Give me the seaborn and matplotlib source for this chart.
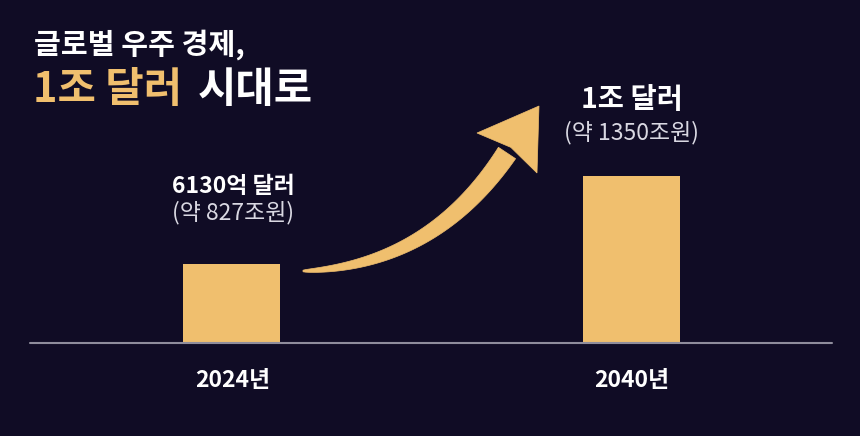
import numpy as np
import pandas as pd
import matplotlib
matplotlib.use("Agg")
import matplotlib.pyplot as plt
import seaborn as sns
from matplotlib.patches import Polygon

# ---- data ----
years = ["2024년", "2040년"]
values = [6130, 10000]  # 억 달러
value_labels = ["6130억 달러", "1조 달러"]
krw_labels = ["(약 827조원)", "(약 1350조원)"]
title_line1 = "글로벌 우주 경제,"
title_hl = "1조 달러"
title_rest = "시대로"

BG = "#100c25"
GOLD = "#f0bf6e"
WHITE = "#ffffff"
LIGHT = "#d9d8e2"
GRID = "#8f8d9c"

sns.set_theme(style="white")
plt.rcParams["font.family"] = ["Noto Sans CJK KR", "DejaVu Sans"]

W, H = 860, 436
fig = plt.figure(figsize=(W / 100, H / 100), dpi=100, facecolor=BG)

base_px, top_px = 343, 176
ax = fig.add_axes([0, (H - base_px) / H, 1, (base_px - top_px) / H])
ax.set_facecolor(BG)

df = pd.DataFrame({"year": years, "value": values})
sns.barplot(data=df, x="year", y="value", color=GOLD, saturation=1,
            width=0.2425, ax=ax, edgecolor="none")
ymin = 2656
ax.set_ylim(ymin, max(values))
ax.set_xlim(-231.5 / 400, (W - 231.5) / 400)
for s in ax.spines.values():
    s.set_visible(False)
ax.set_xticks([]); ax.set_yticks([])
ax.set_xlabel(""); ax.set_ylabel("")

# baseline
ax.axhline(ymin, xmin=30 / W, xmax=832 / W, color=GRID, lw=1.5, clip_on=False, zorder=5)

def fx(x):
    return x / W

def fy(y):
    return 1 - y / H

# value labels (figure pixel positions)
lab_pos = [(233, 186, 213), (632, 100, 133)]
lab_sizes = [16.5, 20.5]
for i, (cx, y1, y2) in enumerate(lab_pos):
    fig.text(fx(cx), fy(y1), value_labels[i], color=WHITE, fontsize=lab_sizes[i],
             fontweight="heavy", ha="center", va="center")
    fig.text(fx(cx), fy(y2), krw_labels[i], color=LIGHT, fontsize=16.5,
             fontweight="light", ha="center", va="center")

# x labels
for i, cx in enumerate([233, 632]):
    fig.text(fx(cx), fy(380), years[i], color=WHITE, fontsize=16.5,
             fontweight="heavy", ha="center", va="center")

# title
fig.text(fx(34), fy(45), title_line1, color=WHITE, fontsize=21,
         fontweight="heavy", ha="left", va="center")
t = fig.text(fx(33), fy(90), title_hl, color=GOLD, fontsize=30,
             fontweight="heavy", ha="left", va="center")
fig.canvas.draw()
ax.annotate(title_rest, xy=(1, 0.5), xycoords=t, xytext=(16, 0),
            textcoords="offset pixels", color=WHITE, fontsize=30,
            fontweight="heavy", ha="left", va="center", annotation_clip=False)

# curved arrow (decoration), built in pixel space
P0 = np.array([303.0, 271.0])
C = np.array([432.0, 266.0])
P2 = np.array([507.0, 153.0])
ts = np.linspace(0, 1, 100)
pts = ((1 - ts)[:, None] ** 2) * P0 + (2 * (1 - ts) * ts)[:, None] * C + (ts ** 2)[:, None] * P2
der = 2 * (1 - ts)[:, None] * (C - P0) + 2 * ts[:, None] * (P2 - C)
tang = der / np.linalg.norm(der, axis=1)[:, None]
norm = np.stack([-tang[:, 1], tang[:, 0]], axis=1)
hw = 0.8 + 9.5 * ts ** 0.65
left = pts + norm * hw[:, None]
right = pts - norm * hw[:, None]
body = np.vstack([left, right[::-1]])
tip = np.array([539.0, 106.0])
b1 = np.array([477.0, 133.0])
b2 = np.array([537.0, 173.0])
notch = P2 + (tip - P2) * 0.12
head = np.array([b1, tip, b2, notch])

def to_fig(a):
    return np.stack([a[:, 0] / W, 1 - a[:, 1] / H], axis=1)

fig.add_artist(Polygon(to_fig(body), closed=True, facecolor=GOLD, edgecolor=GOLD,
                       lw=0.5, transform=fig.transFigure))
fig.add_artist(Polygon(to_fig(head), closed=True, facecolor=GOLD, edgecolor=GOLD,
                       lw=0.5, transform=fig.transFigure))

fig.savefig("out.png", dpi=100, facecolor=BG)
